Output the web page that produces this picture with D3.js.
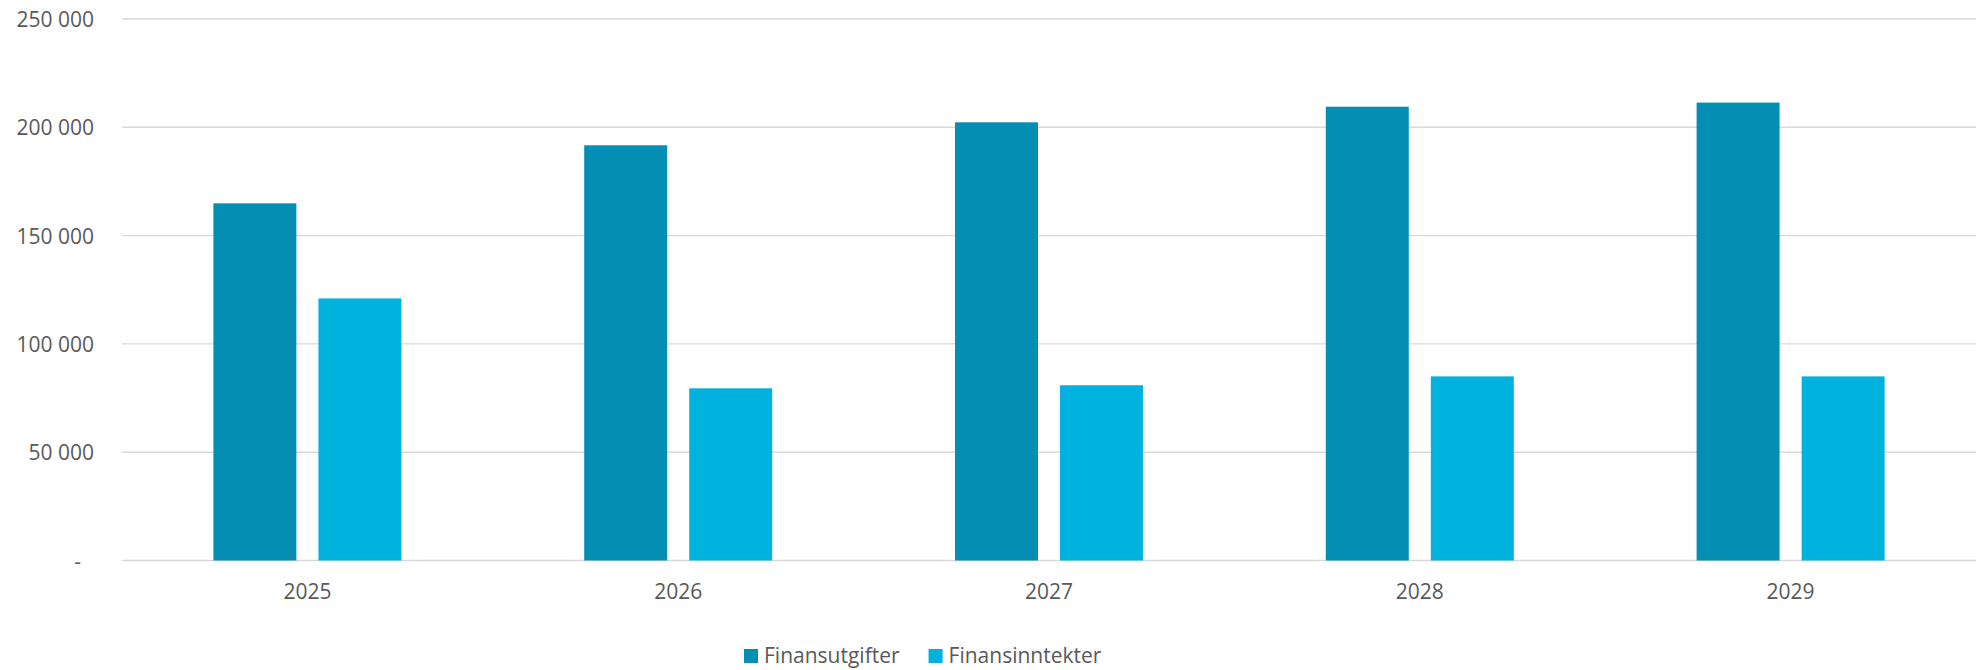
<!DOCTYPE html>
<html>
<head>
    <title>Finansutgifter og finansinntekter</title>
    <style>
        body {
            margin: 0;
            padding: 0;
            background: #fff;
            font-family: "Open Sans", Arial, sans-serif;
        }
        #chart {
            width: 1977px;
            height: 670px;
        }
        .tick text {
            fill: #595959;
        }
    </style>
</head>
<body>
    <div id="chart"></div>

    <script src="https://d3js.org/d3.v7.min.js"></script>
    <script>
        // data
        const years = ['2025', '2026', '2027', '2028', '2029'];
        const seriesNames = ['Finansutgifter', 'Finansinntekter'];
        const finansutgifter = [164900, 191700, 202300, 209500, 211400];
        const finansinntekter = [121000, 79500, 80900, 85000, 85000];
        const yTicks = [0, 50000, 100000, 150000, 200000, 250000];
        const colors = ['#048eb3', '#00b2dd'];

        const width = 1977;
        const height = 670;
        const margin = { top: 19, right: 1, bottom: 109.5, left: 122 };

        const rows = years.map((y, i) => ({
            year: y,
            values: [finansutgifter[i], finansinntekter[i]]
        }));

        const svg = d3.select('#chart').append('svg')
            .attr('width', width)
            .attr('height', height);

        const x0 = d3.scaleBand()
            .domain(years)
            .range([margin.left, width - margin.right])
            .paddingInner(0.493)
            .paddingOuter(0.2465);

        const x1 = d3.scaleBand()
            .domain(d3.range(seriesNames.length))
            .range([0, x0.bandwidth()])
            .paddingInner(0.21);

        const y = d3.scaleLinear()
            .domain([0, 250000])
            .range([height - margin.bottom, margin.top]);

        const fmt = v => v === 0 ? '-' : d3.format(',')(v).replace(/,/g, ' ');

        // gridlines
        svg.append('g')
            .selectAll('line')
            .data(yTicks)
            .enter().append('line')
            .attr('x1', margin.left)
            .attr('x2', width - margin.right)
            .attr('y1', d => y(d))
            .attr('y2', d => y(d))
            .attr('stroke', '#d9d9d9')
            .attr('stroke-width', 1.4);

        // y axis labels
        const yAxis = svg.append('g')
            .attr('transform', `translate(${margin.left - 28},0)`)
            .call(d3.axisLeft(y).tickValues(yTicks).tickFormat(fmt).tickSize(0).tickPadding(0));
        yAxis.select('.domain').remove();
        yAxis.selectAll('text')
            .style('font-family', '"Open Sans", Arial, sans-serif')
            .style('font-size', '21px')
            .attr('dy', '0.36em')
            .attr('x', d => d === 0 ? -13 : 0);

        // bars
        const groups = svg.append('g')
            .selectAll('g')
            .data(rows)
            .enter().append('g')
            .attr('transform', d => `translate(${x0(d.year)},0)`);

        groups.selectAll('rect')
            .data(d => d.values.map((v, i) => ({ i, v })))
            .enter().append('rect')
            .attr('x', d => x1(d.i))
            .attr('width', x1.bandwidth())
            .attr('y', d => y(d.v))
            .attr('height', d => y(0) - y(d.v))
            .attr('fill', d => colors[d.i]);

        // x axis labels
        const xAxis = svg.append('g')
            .attr('transform', `translate(0,${y(0)})`)
            .call(d3.axisBottom(x0).tickSize(0).tickPadding(24));
        xAxis.select('.domain').remove();
        xAxis.selectAll('text')
            .style('font-family', '"Open Sans", Arial, sans-serif')
            .style('font-size', '21px');

        // legend
        const legend = svg.append('g')
            .attr('transform', 'translate(744,649)');
        let lx = 0;
        seriesNames.forEach((name, i) => {
            const item = legend.append('g').attr('transform', `translate(${lx},0)`);
            item.append('rect')
                .attr('width', 14)
                .attr('height', 14)
                .attr('fill', colors[i]);
            const t = item.append('text')
                .attr('x', 20)
                .attr('y', 14)
                .attr('fill', '#595959')
                .style('font-family', '"Open Sans", Arial, sans-serif')
                .style('font-size', '21px')
                .text(name);
            lx += 20 + t.node().getComputedTextLength() + 29;
        });
    </script>
</body>
</html>
